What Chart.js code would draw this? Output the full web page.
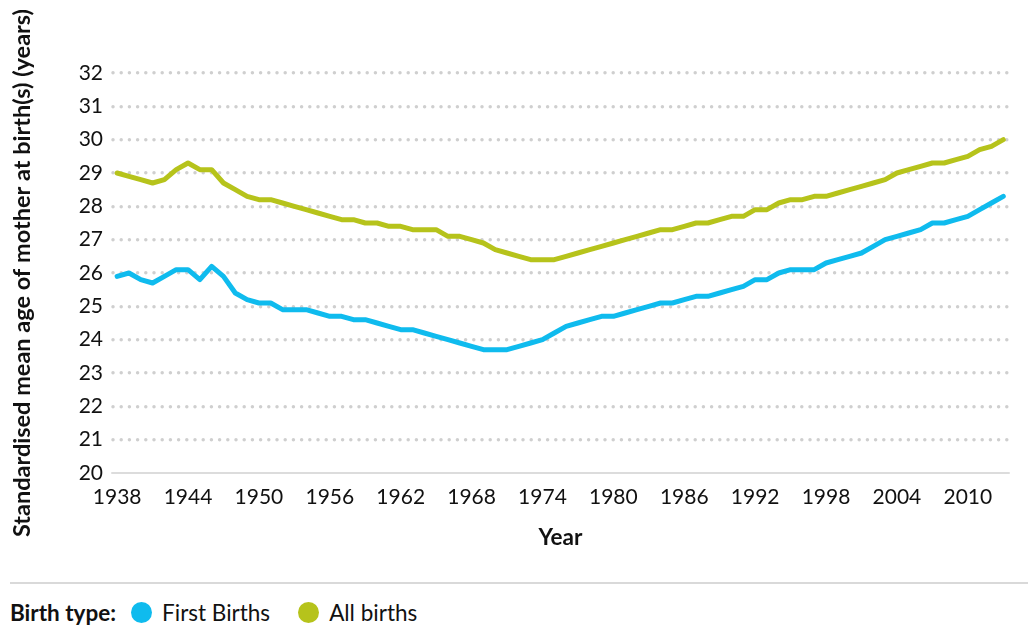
<!DOCTYPE html>
<html>
<head>
<meta charset="utf-8">
<script src="https://cdn.jsdelivr.net/npm/chart.js@4.4.0/dist/chart.umd.min.js"></script>
<style>
	body { margin: 0; background: #fff; font-family: Lato, sans-serif; }
	#wrap { position: relative; width: 1028px; height: 570px; }
	#sep { position: absolute; left: 10px; top: 582px; width: 1018px; height: 2px; background: #d9d9d9; }
	#legend { position: absolute; left: 10px; top: 599px; font-size: 22.5px; color: #111; display: flex; align-items: center; }
	#legend b { margin-right: 15px; }
	.dot { display: inline-block; width: 21px; height: 21px; border-radius: 50%; margin-right: 10px; }
	.item { display: flex; align-items: center; margin-right: 28px; }
</style>
</head>
<body>
<div id="wrap"><canvas id="chart"></canvas></div>
<div id="sep"></div>
<div id="legend">
	<b>Birth type:</b>
	<span class="item"><span class="dot" style="background:#0fbbee"></span>First Births</span>
	<span class="item"><span class="dot" style="background:#b6c31b"></span>All births</span>
</div>
<script>
const years = [];
for (let y = 1938; y <= 2013; y++) years.push(y);

const firstBirths = [
	25.9, 26.0, 25.8, 25.7, 25.9, 26.1, 26.1, 25.8, 26.2, 25.9,
	25.4, 25.2, 25.1, 25.1, 24.9, 24.9, 24.9, 24.8, 24.7, 24.7,
	24.6, 24.6, 24.5, 24.4, 24.3, 24.3, 24.2, 24.1, 24.0, 23.9,
	23.8, 23.7, 23.7, 23.7, 23.8, 23.9, 24.0, 24.2, 24.4, 24.5,
	24.6, 24.7, 24.7, 24.8, 24.9, 25.0, 25.1, 25.1, 25.2, 25.3,
	25.3, 25.4, 25.5, 25.6, 25.8, 25.8, 26.0, 26.1, 26.1, 26.1,
	26.3, 26.4, 26.5, 26.6, 26.8, 27.0, 27.1, 27.2, 27.3, 27.5,
	27.5, 27.6, 27.7, 27.9, 28.1, 28.3
];
const allBirths = [
	29.0, 28.9, 28.8, 28.7, 28.8, 29.1, 29.3, 29.1, 29.1, 28.7,
	28.5, 28.3, 28.2, 28.2, 28.1, 28.0, 27.9, 27.8, 27.7, 27.6,
	27.6, 27.5, 27.5, 27.4, 27.4, 27.3, 27.3, 27.3, 27.1, 27.1,
	27.0, 26.9, 26.7, 26.6, 26.5, 26.4, 26.4, 26.4, 26.5, 26.6,
	26.7, 26.8, 26.9, 27.0, 27.1, 27.2, 27.3, 27.3, 27.4, 27.5,
	27.5, 27.6, 27.7, 27.7, 27.9, 27.9, 28.1, 28.2, 28.2, 28.3,
	28.3, 28.4, 28.5, 28.6, 28.7, 28.8, 29.0, 29.1, 29.2, 29.3,
	29.3, 29.4, 29.5, 29.7, 29.8, 30.0
];
const xTicks = [1938, 1944, 1950, 1956, 1962, 1968, 1974, 1980, 1986, 1992, 1998, 2004, 2010];
const yTicks = [20, 21, 22, 23, 24, 25, 26, 27, 28, 29, 30, 31, 32];

const pts = arr => arr.map((v, i) => ({x: years[i], y: v}));

// round dots for the dotted grid
const roundCaps = {
	id: 'roundCaps',
	beforeDraw(chart) { chart.ctx.lineCap = 'round'; }
};

new Chart(document.getElementById('chart'), {
	type: 'line',
	data: {
		datasets: [{
			label: 'First Births',
			data: pts(firstBirths),
			borderColor: '#0fbbee',
			borderWidth: 5,
			pointRadius: 0,
			borderJoinStyle: 'round',
			borderCapStyle: 'round'
		}, {
			label: 'All births',
			data: pts(allBirths),
			borderColor: '#b6c31b',
			borderWidth: 5,
			pointRadius: 0,
			borderJoinStyle: 'round',
			borderCapStyle: 'round'
		}]
	},
	options: {
		responsive: true,
		maintainAspectRatio: false,
		animation: false,
		layout: { padding: { top: 73, right: 20, left: 0, bottom: 0 } },
		plugins: {
			legend: { display: false },
			tooltip: { enabled: false }
		},
		scales: {
			x: {
				type: 'linear',
				min: 1937.65,
				max: 2013.4,
				afterBuildTicks: s => { s.ticks = xTicks.map(v => ({value: v})); },
				afterFit: s => { s.height = 97; },
				grid: { display: false, drawTicks: false },
				border: { display: true, color: '#dcdcdc', width: 2 },
				ticks: {
					padding: 12,
					color: '#111',
					font: { family: 'Lato', size: 21 },
					callback: v => String(v)
				},
				title: {
					display: true,
					text: 'Year',
					color: '#111',
					font: { family: 'Lato', size: 22.5, weight: 'bold' },
					padding: { top: 0, bottom: 19 }
				}
			},
			y: {
				min: 20,
				max: 32,
				afterBuildTicks: s => { s.ticks = yTicks.map(v => ({value: v})); },
				afterFit: s => { s.width = 113; },
				grid: {
					color: ctx => ctx.tick && ctx.tick.value === 20 ? 'rgba(0,0,0,0)' : '#cfcfcf',
					lineWidth: 3.5,
					drawTicks: false
				},
				border: { display: false, dash: [0, 8.2] },
				ticks: {
					padding: 10,
					color: '#111',
					font: { family: 'Lato', size: 21 }
				},
				title: {
					display: true,
					text: 'Standardised mean age of mother at birth(s) (years)',
					color: '#111',
					font: { family: 'Lato', size: 23.5, weight: 'bold' },
					padding: { top: 8, bottom: 0 }
				}
			}
		}
	},
	plugins: [roundCaps]
});
</script>
</body>
</html>
